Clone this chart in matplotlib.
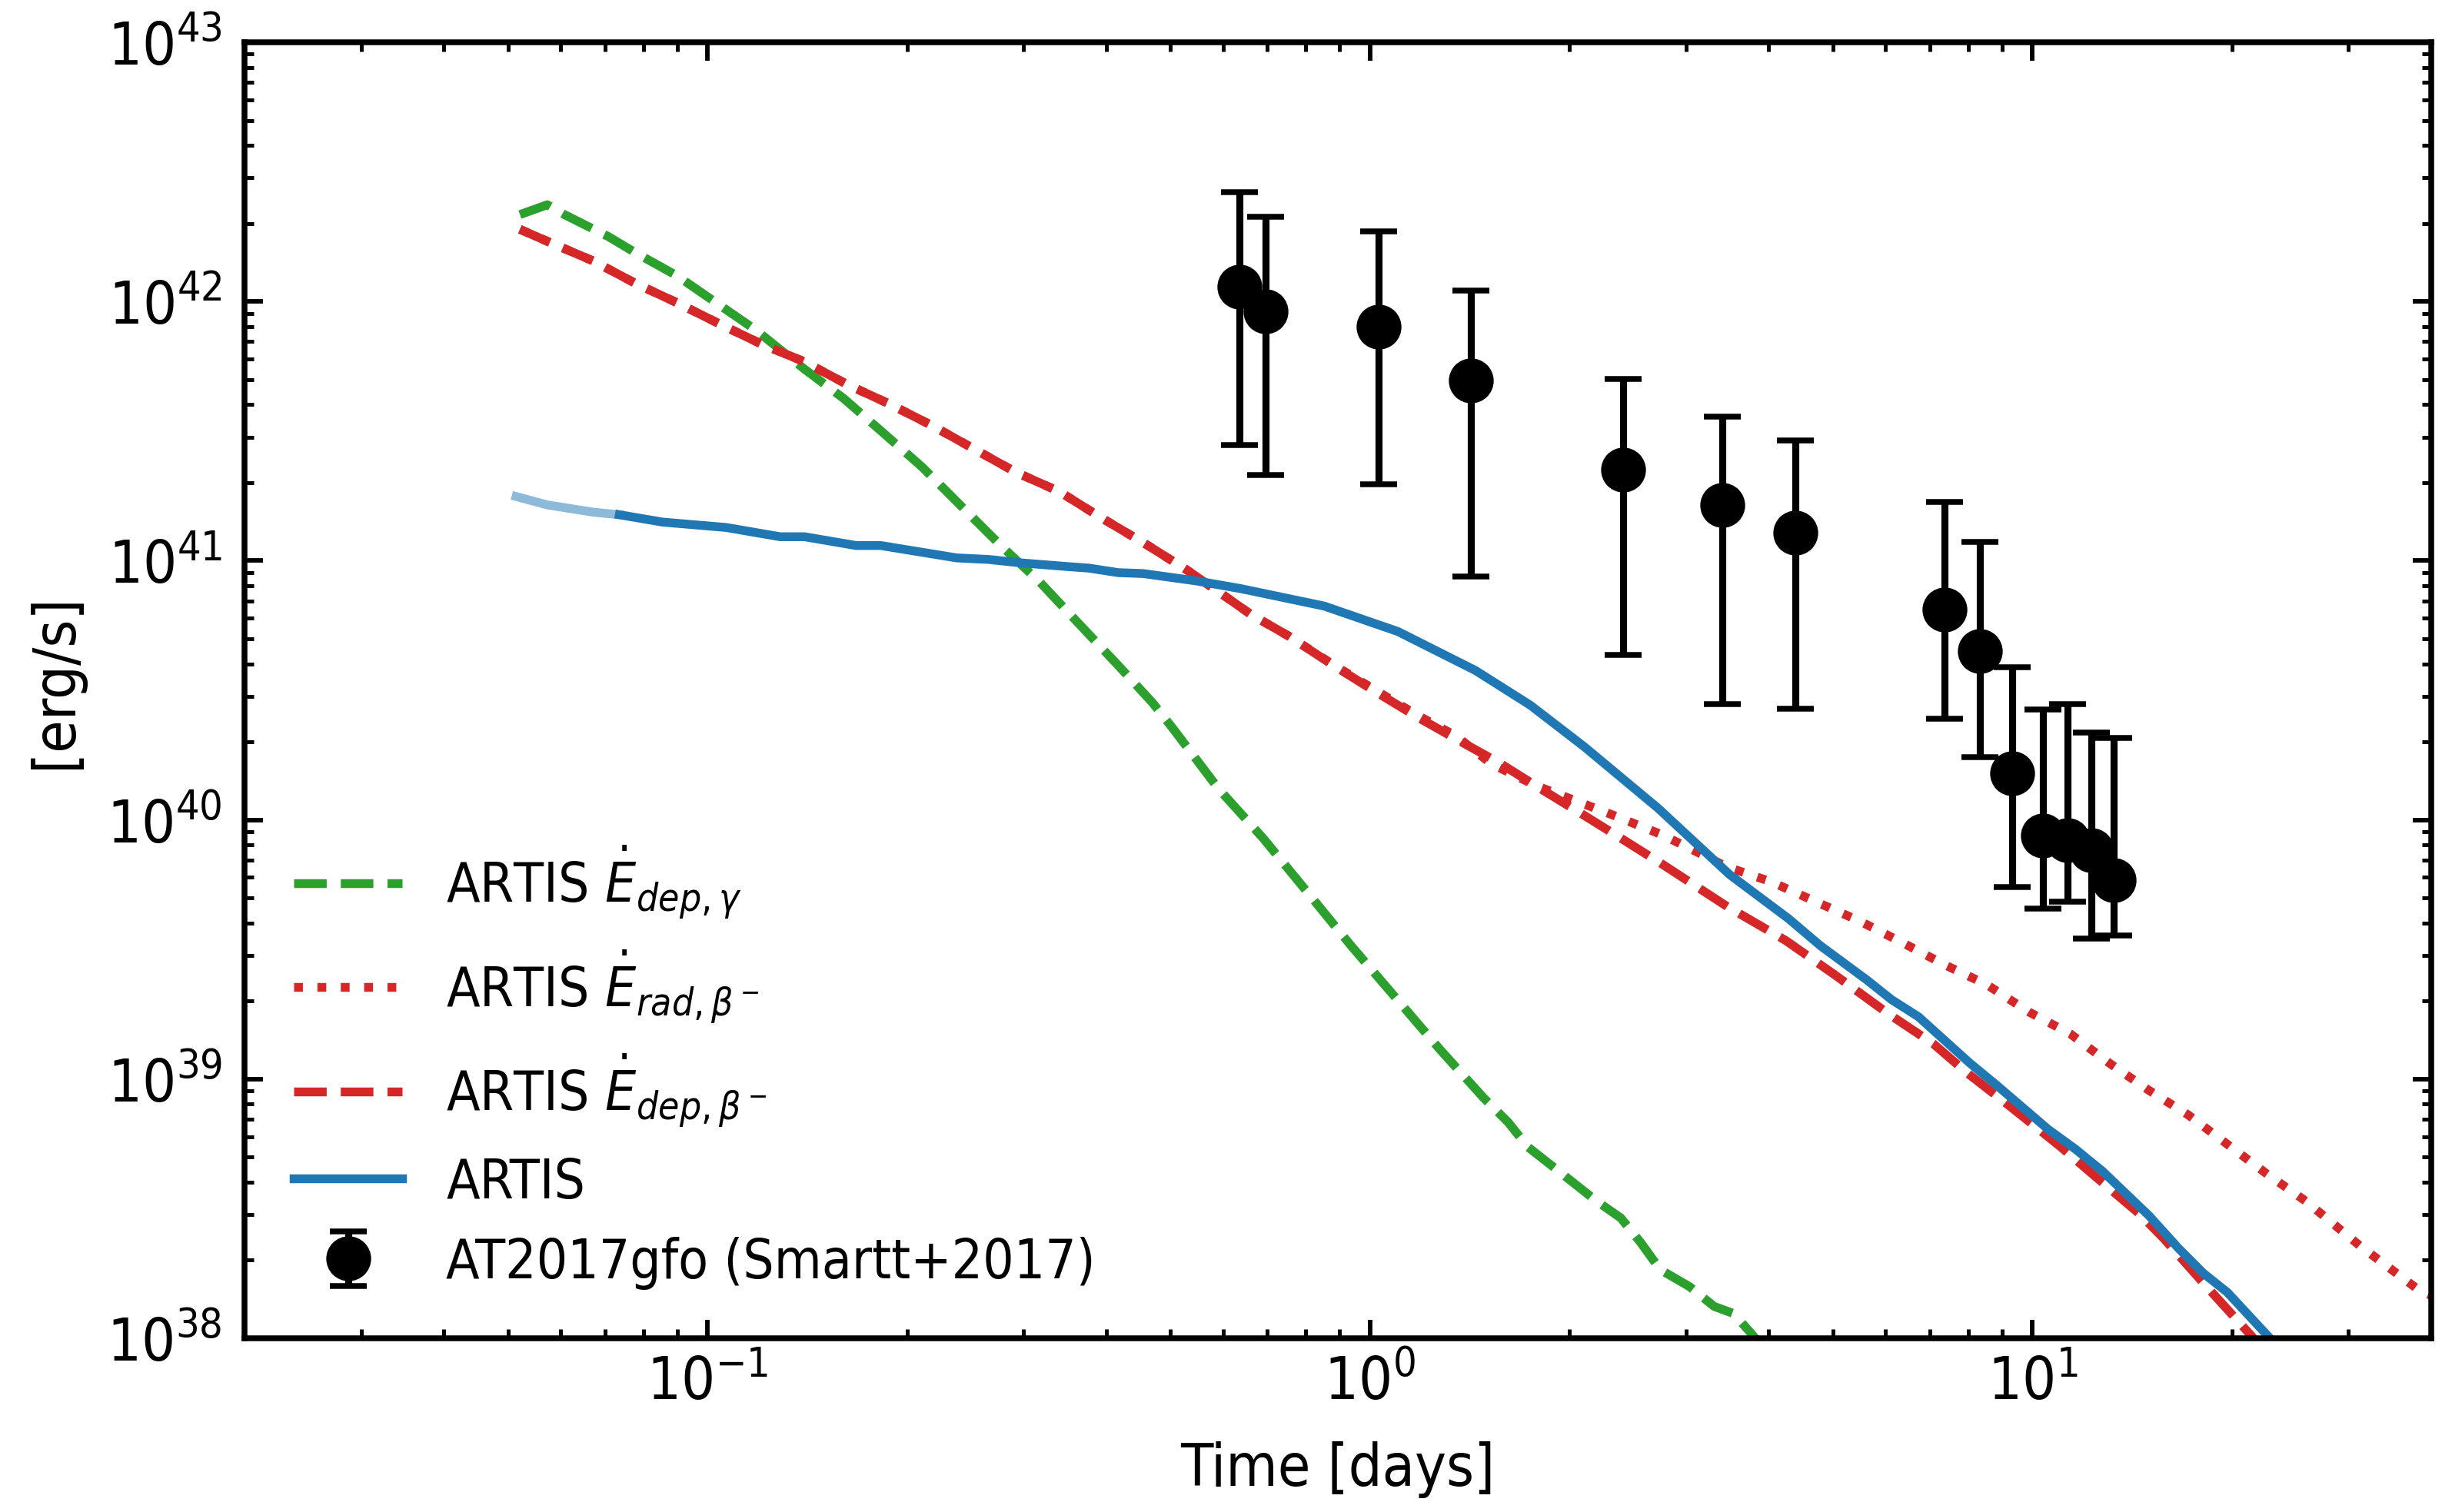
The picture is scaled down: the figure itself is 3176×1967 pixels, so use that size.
import matplotlib
matplotlib.use("Agg")
import matplotlib.pyplot as plt
from matplotlib import font_manager
import numpy as np

# ---------------- data ----------------
# ARTIS total (light early part)
t_artis_early = [0.0514, 0.0573, 0.0673, 0.0736]
L_artis_early = [1.769e41, 1.641e41, 1.538e41, 1.504e41]

# ARTIS total
t_artis = [0.0736, 0.0855, 0.1067, 0.1287, 0.1401, 0.1676, 0.1826, 0.2377, 0.2656,
           0.2966, 0.3458, 0.3764, 0.4173, 0.4544, 0.5479, 0.6384, 0.8532, 1.102,
           1.443, 1.746, 2.105, 2.72, 3.491, 4.283, 4.786, 5.627, 6.127, 6.73, 8.05,
           8.84, 10.57, 11.61, 12.76, 15.0, 16.61, 18.09, 19.70, 22.78, 24.5]
L_artis = [1.504e41, 1.409e41, 1.343e41, 1.237e41, 1.237e41, 1.144e41, 1.144e41,
           1.025e41, 1.011e41, 9.81e40, 9.51e40, 9.36e40, 8.99e40, 8.92e40, 8.35e40,
           7.80e40, 6.68e40, 5.33e40, 3.77e40, 2.77e40, 1.917e40, 1.111e40, 6.15e39,
           4.16e39, 3.27e39, 2.41e39, 2.026e39, 1.739e39, 1.151e39, 9.45e38, 6.39e38,
           5.37e38, 4.41e38, 2.97e38, 2.226e38, 1.788e38, 1.502e38, 1.007e38, 8.0e37]

# ARTIS Edot dep, beta-
t_dep_beta = [0.0521, 0.0578, 0.0673, 0.0778, 0.09, 0.1049, 0.1202, 0.1401, 0.1634,
              0.1872, 0.2183, 0.2544, 0.2916, 0.3399, 0.3896, 0.4623, 0.5297, 0.607,
              0.6607, 0.7557, 0.8828, 1.012, 1.18, 1.352, 1.576, 1.806, 2.105, 2.413,
              2.766, 3.462, 4.246, 5.036, 6.077, 7.085, 7.98, 9.30, 11.03, 12.43,
              14.49, 15.78, 18.09, 21.46, 23.0]
L_dep_beta = [1.898e42, 1.690e42, 1.431e42, 1.175e42, 9.88e41, 8.13e41, 6.88e41,
              5.85e41, 4.75e41, 4.05e41, 3.32e41, 2.67e41, 2.198e41, 1.846e41,
              1.484e41, 1.144e41, 9.19e40, 7.23e40, 6.21e40, 5.10e40, 3.93e40,
              3.16e40, 2.49e40, 2.046e40, 1.645e40, 1.323e40, 1.041e40, 8.38e39,
              6.73e39, 4.63e39, 3.42e39, 2.52e39, 1.778e39, 1.369e39, 1.054e39,
              7.77e38, 5.48e38, 4.22e38, 3.03e38, 2.43e38, 1.641e38, 1.015e38, 8.0e37]

# ARTIS Edot rad, beta-
t_rad_beta = [0.0521, 0.0578, 0.0673, 0.0778, 0.09, 0.1049, 0.1202, 0.1401, 0.1634,
              0.1872, 0.2183, 0.2544, 0.2916, 0.3399, 0.3896, 0.4623, 0.5297, 0.607,
              0.6607, 0.7557, 0.8828, 1.012, 1.18, 1.352, 1.522, 1.775, 2.035, 2.332,
              2.766, 3.462, 4.034, 4.705, 5.486, 6.394, 7.393, 8.543, 9.877, 11.41,
              13.08, 14.99, 17.18, 19.70, 22.58, 25.87, 31.21, 38.30, 41.0]
L_rad_beta = [1.898e42, 1.690e42, 1.431e42, 1.175e42, 9.88e41, 8.13e41, 6.88e41,
              5.85e41, 4.75e41, 4.05e41, 3.32e41, 2.67e41, 2.198e41, 1.846e41,
              1.484e41, 1.144e41, 9.19e40, 7.23e40, 6.21e40, 5.10e40, 3.95e40,
              3.20e40, 2.53e40, 2.10e40, 1.65e40, 1.36e40, 1.19e40, 1.041e40,
              8.74e39, 6.58e39, 5.77e39, 4.84e39, 4.07e39, 3.34e39, 2.75e39, 2.31e39,
              1.816e39, 1.494e39, 1.15e39, 9.05e38, 7.28e38, 5.60e38, 4.31e38,
              3.38e38, 2.275e38, 1.536e38, 1.42e38]

# ARTIS Edot dep, gamma
t_dep_gamma = [0.0521, 0.0573, 0.0608, 0.0709, 0.0772, 0.09, 0.1031, 0.1182, 0.1401,
               0.1606, 0.1841, 0.2110, 0.2417, 0.2772, 0.3177, 0.3641, 0.4173, 0.4697,
               0.5028, 0.5909, 0.6891, 0.8035, 0.9364, 1.092, 1.273, 1.484, 1.617,
               1.730, 1.950, 2.196, 2.392, 2.562, 2.742, 3.038, 3.307, 3.540, 3.788, 4.0]
L_dep_gamma = [2.164e42, 2.362e42, 2.164e42, 1.778e42, 1.561e42, 1.255e42, 9.88e41,
               7.77e41, 5.48e41, 4.22e41, 3.115e41, 2.294e41, 1.621e41, 1.144e41,
               8.25e40, 5.69e40, 3.93e40, 2.83e40, 2.272e40, 1.317e40, 8.52e39,
               5.28e39, 3.27e39, 2.068e39, 1.308e39, 8.47e38, 6.81e38, 5.48e38,
               4.31e38, 3.39e38, 2.91e38, 2.342e38, 1.841e38, 1.581e38, 1.328e38,
               1.245e38, 1.024e38, 8.5e37]

# AT2017gfo (Smartt+2017)
obs_t = [0.636, 0.695, 1.031, 1.422, 2.409, 3.405, 4.389, 7.365, 8.329, 9.32,
         10.36, 11.29, 12.29, 13.28]
obs_L = [1.138e42, 9.18e41, 8.02e41, 4.97e41, 2.24e41, 1.64e41, 1.285e41, 6.47e40,
         4.47e40, 1.517e40, 8.71e39, 8.34e39, 7.66e39, 5.86e39]
obs_L_lo = [2.793e41, 2.133e41, 1.968e41, 8.71e40, 4.33e40, 2.80e40, 2.679e40,
            2.46e40, 1.750e40, 5.50e39, 4.54e39, 4.84e39, 3.49e39, 3.57e39]
obs_L_hi = [2.636e42, 2.118e42, 1.858e42, 1.102e42, 5.02e41, 3.60e41, 2.917e41,
            1.687e41, 1.180e41, 3.87e40, 2.673e40, 2.805e40, 2.168e40, 2.075e40]

xlabel = "Time [days]"
ylabel = "[erg/s]"

# ---------------- fonts ----------------
fam = "DejaVu Sans"
stretch = "normal"
for f in font_manager.fontManager.ttflist:
    if f.fname.endswith("DejaVuSansCondensed.ttf"):
        fam = f.name
        stretch = f.stretch
        break
plt.rcParams["font.family"] = [fam]
plt.rcParams["font.stretch"] = stretch
plt.rcParams["mathtext.fontset"] = "dejavusans"

# ---------------- figure ----------------
W, H, DPI = 3176, 1968, 300
fig = plt.figure(figsize=(W / DPI, H / DPI), dpi=DPI)
ax = fig.add_axes([318 / W, 1 - 1742 / H, (3162 - 318) / W, (1742 - 56) / H])

lw = 2.75
ax.plot(t_dep_gamma, L_dep_gamma, ls="--", color="tab:green", lw=lw,
        label=r"ARTIS $\dot{E}_{dep,\gamma}$")
ax.plot(t_rad_beta, L_rad_beta, ls=":", color="tab:red", lw=lw,
        label=r"ARTIS $\dot{E}_{rad,\beta^-}$")
ax.plot(t_dep_beta, L_dep_beta, ls="--", color="tab:red", lw=lw,
        label=r"ARTIS $\dot{E}_{dep,\beta^-}$")
ax.plot(t_artis_early, L_artis_early, ls="-", color="tab:blue", alpha=0.5, lw=lw,
        label="_nolegend_")
ax.plot(t_artis, L_artis, ls="-", color="tab:blue", lw=lw, label="ARTIS")

obs_L_arr = np.array(obs_L)
yerr = [obs_L_arr - np.array(obs_L_lo), np.array(obs_L_hi) - obs_L_arr]
ax.errorbar(obs_t, obs_L, yerr=yerr, fmt="o", color="k", ms=13, elinewidth=2.2,
            capsize=5.75, capthick=1.8, label="AT2017gfo (Smartt+2017)", zorder=5)

ax.set_xscale("log")
ax.set_yscale("log")
ax.set_xlim(0.02, 40)
ax.set_ylim(1e38, 1e43)

ax.tick_params(which="both", direction="in", top=True, right=True)
ax.tick_params(which="major", length=5.8, width=1.4, labelsize=18.5)
ax.tick_params(which="minor", length=2.9, width=1.2)
ax.tick_params(axis="y", which="major", pad=7)
ax.tick_params(axis="x", which="major", pad=5)
for s in ax.spines.values():
    s.set_linewidth(1.8)

ax.set_xlabel(xlabel, fontsize=18.5, labelpad=9)
fig.text(72 / W, 1 - 886 / H, ylabel, rotation=90, ha="center", va="center",
         fontsize=18.5)

ax.legend(loc="lower left", frameon=False, fontsize=17, handlelength=2.0,
          labelspacing=0.5, borderaxespad=0.5, handletextpad=0.8)

fig.savefig("out.png", dpi=DPI)
